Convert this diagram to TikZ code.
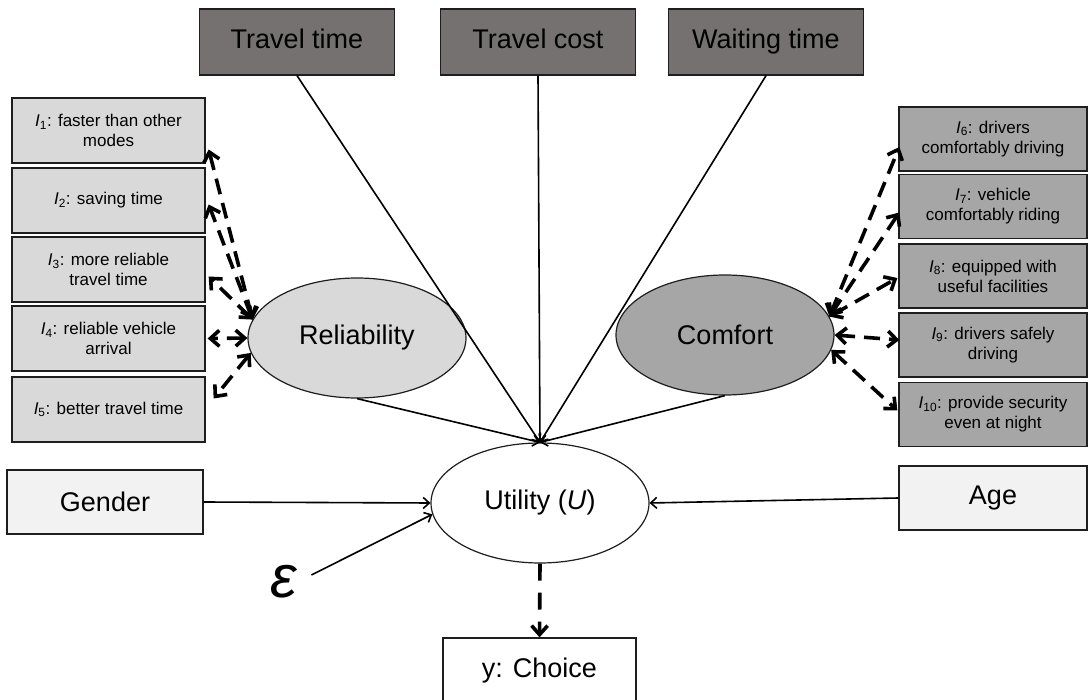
\documentclass[tikz,border=0pt]{standalone}
\usepackage{fontspec}
\setmainfont{Liberation Sans}
\usetikzlibrary{arrows.meta,shapes.geometric,calc}
\definecolor{topgray}{RGB}{118,113,113}
\definecolor{lightg}{RGB}{217,217,217}
\definecolor{midg}{RGB}{166,166,166}
\definecolor{paleg}{RGB}{242,242,242}
\definecolor{edge}{RGB}{30,30,30}
\newcommand{\ind}[1]{\textit{I}\textsubscript{#1}}
\begin{document}
\begin{tikzpicture}[x=1pt,y=-1pt,
  box/.style={draw=edge, line width=1.3pt, inner sep=0pt, align=center},
  bigtxt/.style={font=\fontsize{27}{32}\selectfont},
  smalltxt/.style={font=\fontsize{17}{20}\selectfont},
  topbox/.style={box, bigtxt, fill=topgray, minimum width=195pt, minimum height=66pt, text height=19pt, text depth=5pt},
  leftbox/.style={box, smalltxt, fill=lightg, minimum width=193pt, minimum height=65pt},
  rightbox/.style={box, smalltxt, fill=midg, minimum width=188pt, minimum height=64pt},
  lat/.style={ellipse, draw=edge, line width=1.2pt, minimum width=218pt, minimum height=120pt, inner sep=0pt, bigtxt},
  solidarr/.style={line width=1.6pt, -{Straight Barb[length=6pt,width=11pt]}},
  dasharr/.style={line width=3.6pt, dash pattern=on 16pt off 9pt,
     {Straight Barb[length=9pt,width=16pt]}-{Straight Barb[length=9pt,width=16pt]}},
  dashone/.style={line width=3.6pt, dash pattern=on 17pt off 12pt,
     -{Straight Barb[length=9pt,width=16pt]}},
]
\useasboundingbox (0,0) rectangle (1088,700);

% top boxes
\node[topbox] (tt) at (297,42) {Travel time};
\node[topbox] (tc) at (538,42) {Travel cost};
\node[topbox] (wt) at (766,42) {Waiting time};

% left indicator boxes
\node[leftbox] (l1) at (108.5,130.5) {\ind{1}: faster than other\\modes};
\node[leftbox] (l2) at (108.5,200.5) {\ind{2}: saving time};
\node[leftbox] (l3) at (108.5,269.5) {\ind{3}: more reliable\\travel time};
\node[leftbox] (l4) at (108.5,338.5) {\ind{4}: reliable vehicle\\arrival};
\node[leftbox] (l5) at (108.5,409.5) {\ind{5}: better travel time};

% right indicator boxes
\node[rightbox] (r6) at (993,139) {\ind{6}: drivers\\comfortably driving};
\node[rightbox] (r7) at (993,206.5) {\ind{7}: vehicle\\comfortably riding};
\node[rightbox] (r8) at (993,276) {\ind{8}: equipped with\\useful facilities};
\node[rightbox] (r9) at (993,345) {\ind{9}: drivers safely\\driving};
\node[rightbox] (r10) at (993,414.5) {\ind{10}: provide security\\even at night};

% latent variables
\node[lat, fill=lightg] (rel) at (357,338) {Reliability};
\node[lat, fill=midg] (com) at (725,335) {Comfort};
\node[lat, fill=white] (util) at (540,503) {Utility (\textit{U})};

% other boxes
\node[box, bigtxt, fill=paleg, minimum width=196pt, minimum height=64pt] (gen) at (105,502) {Gender};
\node[box, bigtxt, fill=paleg, minimum width=188pt, minimum height=64pt] (age) at (993,498) {Age};
\node[box, bigtxt, fill=white, minimum width=193pt, minimum height=66pt] (ch) at (539.5,671) {y: Choice};
\node[inner sep=0pt, font=\fontsize{60}{60}\selectfont\itshape] (eps) at (284,582) {ε};

% solid arrows into utility
\draw[solidarr] (tt.south) -- (util.north);
\draw[solidarr] (tc.south) -- (util.north);
\draw[solidarr] (wt.south) -- (util.north);
\draw[solidarr] (rel.south) -- (util.north);
\draw[solidarr] (com.south) -- (util.north);
\draw[solidarr] (gen.east) -- (util.west);
\draw[solidarr] (age.west) -- (util.east);
\draw[solidarr] ($(eps.east)+(14,-7)$) -- (util.186);

% measurement arrows
\draw[dasharr] (rel.170) -- ($(l1.east)+(3,19)$);
\draw[dasharr] (rel.170) -- ($(l2.east)+(3,4)$);
\draw[dasharr] (rel.170) -- ($(l3.east)+(3,7)$);
\draw[dasharr] (rel.west) -- ($(l4.east)+(2,0)$);
\draw[dasharr] (rel.188) -- ($(l5.east)+(8,-11)$);

\draw[dasharr] (com.10) -- ($(r6.west)+(1,8)$);
\draw[dasharr] (com.10) -- ($(r7.west)+(1,6)$);
\draw[dasharr] (com.10) -- ($(r8.west)+(-1,2)$);
\draw[dasharr] (com.east) -- ($(r9.west)+(1,-5)$);
\draw[dasharr] (com.-8) -- ($(r10.west)+(-1,-4)$);

% utility to choice
\draw[dashone] (util.south) -- (ch.north);
\end{tikzpicture}
\end{document}
